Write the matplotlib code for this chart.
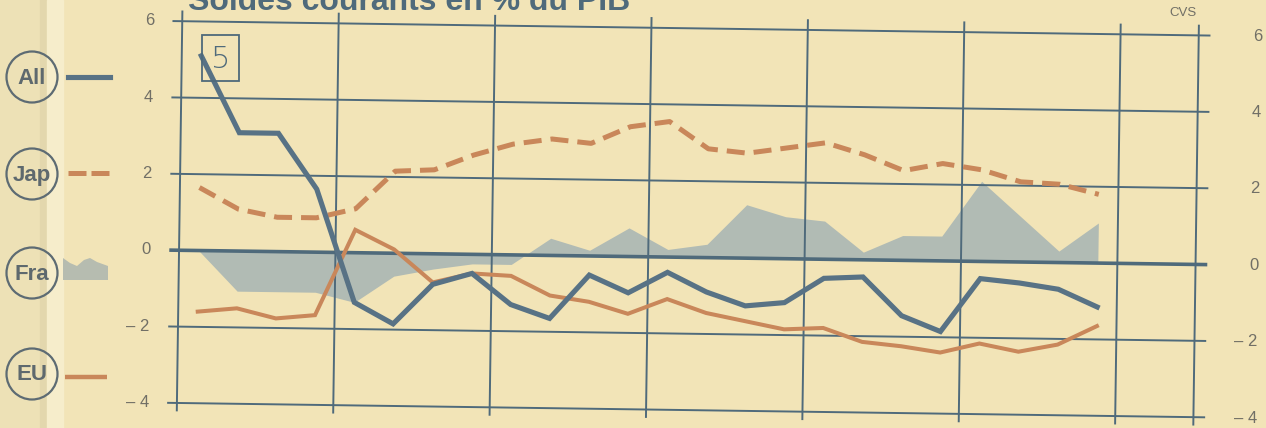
import numpy as np
import matplotlib
matplotlib.use("Agg")
import matplotlib.pyplot as plt
import matplotlib.transforms as mtransforms
from matplotlib.patches import Circle, Rectangle, Polygon
from matplotlib.lines import Line2D

# ---------------- data (quarterly values, % of GDP) ----------------
quarters = np.arange(24)
all_vals = [5.1, 3.1, 3.1, 1.65, -1.3, -1.85, -0.8, -0.5, -1.3, -1.65, -0.5, -0.95,
            -0.4, -0.9, -1.25, -1.15, -0.5, -0.45, -1.45, -1.85, -0.45, -0.55, -0.7, -1.15]
jap_vals = [1.65, 1.1, 0.9, 0.9, 1.15, 2.15, 2.2, 2.6, 2.9, 3.05, 2.95, 3.4,
            3.55, 2.85, 2.75, 2.9, 3.05, 2.75, 2.35, 2.55, 2.4, 2.1, 2.05, 1.8]
fra_vals = [0.0, -1.05, -1.05, -1.05, -1.3, -0.6, -0.4, -0.25, -0.25, 0.45, 0.15, 0.75,
            0.2, 0.35, 1.4, 1.1, 1.0, 0.2, 0.65, 0.65, 2.1, 1.2, 0.3, 1.05]
eu_vals = [-1.6, -1.5, -1.75, -1.65, 0.6, 0.1, -0.75, -0.5, -0.55, -1.05, -1.2, -1.5,
           -1.1, -1.45, -1.65, -1.85, -1.8, -2.15, -2.25, -2.4, -2.15, -2.35, -2.15, -1.65]
y_ticks = [6, 4, 2, 0, -2, -4]
y_tick_labels = ["6", "4", "2", "0", "\u2013 2", "\u2013 4"]
year_lines = [0, 4, 8, 12, 16, 20, 24]
legend_labels = ["All", "Jap", "Fra", "EU"]
title = "Soldes courants en % du PIB"

# ---------------- style ----------------
BG = "#f2e4b7"
SLATE = "#4f6a7b"
BLUE = "#587285"
ORANGE = "#c9875a"
FILL = "#b1bbb4"
TXT = "#716f66"

W, H = 1266, 428
fig = plt.figure(figsize=(W / 100, H / 100), dpi=100)
fig.patch.set_facecolor(BG)
ax = fig.add_axes([0, 0, 1, 1])
# x: 39.1 px per quarter, x=0 at px 179 ; y: 38.18 px per unit, 0 at px 256.8 from top
ax.set_xlim(-179 / 39.1, (W - 179) / 39.1)
ax.set_ylim((256.8 - H) / 38.18, 256.8 / 38.18)
ax.axis("off")

# scanned page is slightly rotated
rot = mtransforms.Affine2D().rotate_deg_around(648, H - 256.8, -0.8)
tr = ax.transData + rot
pix = mtransforms.IdentityTransform()


def P(x, y_top):
    return (x, H - y_top)


# page fold shading at the left
for x0, x1, c in [(0, 40, "#ede1b6"), (40, 47, "#e3d7ad"), (47, 63, "#f6edcb")]:
    fig.patches.append(Rectangle((x0, 0), x1 - x0, H, transform=pix, color=c, zorder=0))

x = quarters + 0.5

# France: area
ax.fill_between(x, 0, fra_vals, color=FILL, lw=0, transform=tr, zorder=1)

# grid
ax.hlines([t for t in y_ticks if t != 0], -0.25, 26.3, color=SLATE, lw=1.4, transform=tr, zorder=2)
ax.hlines([0], -0.25, 26.3, color=SLATE, lw=2.6, transform=tr, zorder=3)
ax.vlines(year_lines + [26], -4.22, 6.28, color=SLATE, lw=1.4, transform=tr, zorder=2)

# series
ax.plot(x, eu_vals, color=ORANGE, lw=2.9, transform=tr, zorder=4, solid_joinstyle="miter")
ax.plot(x, jap_vals, color=ORANGE, lw=3.6, linestyle=(0, (3.6, 1.8)), transform=tr, zorder=4)
ax.plot(x, all_vals, color=BLUE, lw=3.7, transform=tr, zorder=5, solid_joinstyle="miter")

# tick labels
for t, lab in zip(y_ticks, y_tick_labels):
    ax.text(-0.72, t, lab, ha="right", va="center", fontsize=12, color=TXT,
            family="Liberation Sans", transform=tr)
    ax.text(27.62, t, lab, ha="right", va="center", fontsize=12, color=TXT,
            family="Liberation Sans", transform=tr)

# CVS
fig.text(1183 / W, 1 - 13 / H, "CVS", ha="center", va="center", fontsize=9.5,
         color=TXT, family="Liberation Sans")

# title (cut at top of scan)
fig.text(188 / W, 1 - 10 / H, title, ha="left", va="baseline", fontsize=23,
         weight="bold", color=SLATE, family="Liberation Sans")

# chart number box
fig.patches.append(Rectangle(P(202, 81), 37, 46, transform=pix, fill=False,
                             edgecolor=SLATE, lw=1.3, zorder=6))
fig.text(221 / W, 1 - 59 / H, "5", ha="center", va="center", fontsize=22,
         color=SLATE, family="DejaVu Sans", weight="light")

# legend
centers = [77, 174, 273, 374]
for lab, cy in zip(legend_labels, centers):
    fig.patches.append(Circle(P(32, cy), 25.5, transform=pix, fill=False,
                              edgecolor="#5d6b73", lw=1.6, zorder=6))
    fig.text(32 / W, 1 - (cy + 1) / H, lab, ha="center", va="center", fontsize=16,
             weight="bold", color="#5e696e", family="Liberation Sans")

fig.lines.append(Line2D([68, 110], [H - 77, H - 77], transform=pix, color=BLUE, lw=3.7))
for a, b in [(68, 86), (91, 109)]:
    fig.lines.append(Line2D([a, b], [H - 173, H - 173], transform=pix, color=ORANGE,
                            lw=3.6, solid_capstyle="butt"))
fig.lines.append(Line2D([65, 107], [H - 377, H - 377], transform=pix, color=ORANGE,
                        lw=3.2, solid_capstyle="butt"))
fra_icon = [(63, 258), (70, 263), (77, 266), (84, 260), (90, 258), (97, 262), (108, 266),
            (108, 280), (63, 280)]
fig.patches.append(Polygon([P(a, b) for a, b in fra_icon], closed=True, transform=pix,
                           color="#b6bcb0", lw=0, zorder=6))

fig.savefig("out.png", dpi=100, facecolor=BG)
